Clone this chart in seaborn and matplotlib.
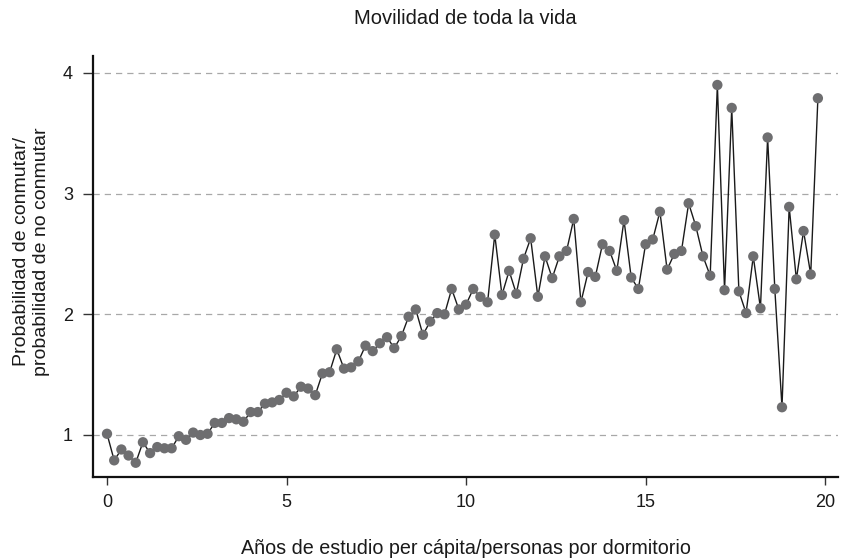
import matplotlib
matplotlib.use("Agg")
import matplotlib.pyplot as plt
import seaborn as sns
import numpy as np
import pandas as pd

title = "Movilidad de toda la vida"
xlabel = "Años de estudio per cápita/personas por dormitorio"
ylabel = "Probabilidad de conmutar/\nprobabilidad de no conmutar"

x_ticks = [0, 5, 10, 15, 20]
y_ticks = [1, 2, 3, 4]

x_step = 0.2
ratio = [1.01, 0.79, 0.88, 0.83, 0.77, 0.94, 0.85, 0.90, 0.89, 0.89,
         0.99, 0.96, 1.02, 1.00, 1.01, 1.10, 1.10, 1.14, 1.13, 1.11,
         1.19, 1.19, 1.26, 1.27, 1.29, 1.35, 1.32, 1.40, 1.385, 1.33,
         1.51, 1.52, 1.71, 1.55, 1.56, 1.61, 1.74, 1.695, 1.76, 1.81,
         1.72, 1.82, 1.98, 2.04, 1.83, 1.94, 2.01, 2.00, 2.21, 2.04,
         2.08, 2.21, 2.145, 2.10, 2.66, 2.16, 2.36, 2.17, 2.46, 2.63,
         2.145, 2.48, 2.30, 2.48, 2.525, 2.79, 2.10, 2.35, 2.31, 2.58,
         2.525, 2.36, 2.78, 2.305, 2.21, 2.58, 2.62, 2.85, 2.37, 2.50,
         2.525, 2.92, 2.73, 2.48, 2.32, 3.90, 2.20, 3.71, 2.19, 2.01,
         2.48, 2.05, 3.465, 2.21, 1.23, 2.89, 2.29, 2.69, 2.33, 3.79]
years = [round(i * x_step, 1) for i in range(len(ratio))]

df = pd.DataFrame({"x": years, "y": ratio})

sns.set_theme(style="white")
plt.rcParams["font.family"] = ["Liberation Sans", "DejaVu Sans"]

fig = plt.figure(figsize=(8.41, 5.58), dpi=100)
ax = fig.add_axes([93 / 841, 1 - 477 / 558, (838 - 93) / 841, (477 - 56) / 558])

sns.lineplot(data=df, x="x", y="y", ax=ax, color="#1a1a1a", linewidth=1.0,
             zorder=2)
sns.scatterplot(data=df, x="x", y="y", ax=ax, color="#6e6e70", s=55,
                edgecolor="none", linewidth=0, zorder=3)

ax.set_xlim(-0.39, 20.36)
ax.set_ylim(0.652, 4.14)
ax.set_xticks(x_ticks)
ax.set_yticks(y_ticks)
ax.set_xticklabels([str(t) for t in x_ticks])
ax.set_yticklabels([str(t) for t in y_ticks])

for t in y_ticks:
    ax.axhline(t, color="#a8a8a8", linestyle=(0, (5, 4)), linewidth=0.9, zorder=1)

for side in ["top", "right"]:
    ax.spines[side].set_visible(False)
for side in ["left", "bottom"]:
    ax.spines[side].set_color("#111111")
    ax.spines[side].set_linewidth(1.6)

ax.tick_params(axis="both", which="major", direction="out",
               width=1.0, color="#333333", labelsize=13, labelcolor="#1a1a1a",
               bottom=True, left=True)
ax.tick_params(axis="y", length=7.5, pad=7)
ax.tick_params(axis="x", length=6, pad=6.5)

ax.set_xlabel(xlabel, fontsize=14.2, color="#1a1a1a", labelpad=20)
ax.set_ylabel(ylabel, fontsize=14, color="#1a1a1a", linespacing=1.2)
ax.yaxis.set_label_coords(-0.058, 0.535)
ax.set_title(title, fontsize=14.5, color="#1a1a1a", pad=23)
ax.grid(False)

fig.savefig("out.png", dpi=100)
